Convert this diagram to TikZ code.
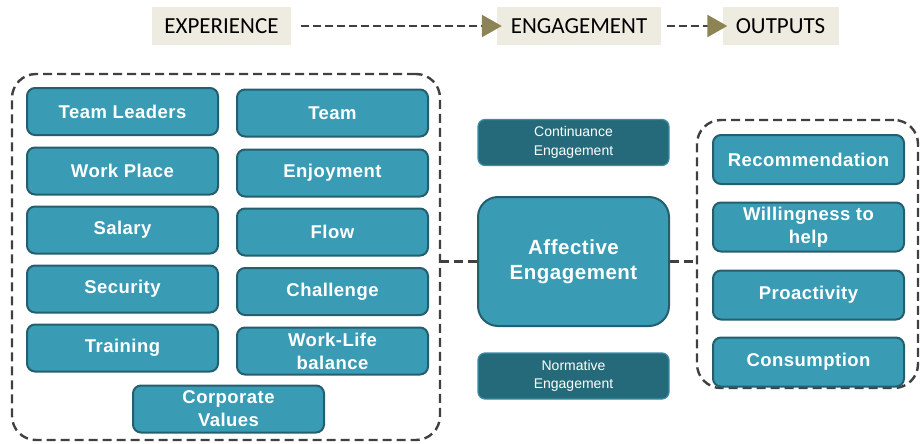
\documentclass[tikz,border=0pt]{standalone}
\usepackage{fontspec}
\setmainfont{Liberation Sans}
\newfontfamily\headfont{Carlito}
\newfontfamily\boxfont[LetterSpace=2.5]{Liberation Sans}
\usetikzlibrary{arrows.meta}

\definecolor{tealfill}{HTML}{3A9BB5}
\definecolor{tealedge}{HTML}{245F6E}
\definecolor{tealdark}{HTML}{256A7A}
\definecolor{tealrim}{HTML}{3C8EA3}
\definecolor{beige}{HTML}{EEECE1}
\definecolor{olive}{HTML}{8C8455}
\definecolor{dashgray}{HTML}{404040}

\tikzset{
  headbox/.style={fill=beige, text=black, font=\headfont\fontsize{23}{24}\selectfont,
    minimum height=38pt, inner sep=0pt},
  item/.style={draw=tealedge, line width=2pt, fill=tealfill, rounded corners=8pt,
    text=white, font=\boxfont\bfseries\fontsize{18.5}{23}\selectfont, align=center,
    minimum width=191pt, minimum height=47pt, inner sep=0pt},
  minor/.style={draw=tealrim, line width=1.2pt, fill=tealdark, rounded corners=7pt,
    text=white, font=\fontsize{14}{18.5}\selectfont, align=center,
    minimum width=191pt, minimum height=46pt, inner sep=0pt},
  core/.style={item, rounded corners=20pt, minimum height=129pt,
    font=\boxfont\bfseries\fontsize{20.5}{25}\selectfont},
  frame/.style={draw=dashgray, line width=2.4pt, dash pattern=on 9pt off 5pt,
    rounded corners=24pt, inner sep=0pt},
  flow/.style={draw=dashgray, line width=2.6pt, dash pattern=on 8pt off 4pt},
  link/.style={draw=dashgray, line width=2.4pt, dash pattern=on 9pt off 5pt},
  olivetip/.style={-{Triangle[length=20pt,width=22pt,fill=olive,color=olive]}}
}

\begin{document}
\begin{tikzpicture}[x=1pt,y=-1pt]
\useasboundingbox (0,0) rectangle (921,444);

% header row
\node[headbox, minimum width=139pt] (exp) at (221.5,26) {EXPERIENCE};
\node[headbox, minimum width=164pt] (eng) at (579,26) {ENGAGEMENT};
\node[headbox, minimum width=116pt] (out) at (780.5,26) {OUTPUTS};
\draw[flow, olivetip, shorten <=10pt, shorten >=-5pt] (exp.east) -- (eng.west);
\draw[flow, olivetip, shorten <=6pt, shorten >=-5pt] (eng.east) -- (out.west);

% experience group
\node[frame, minimum width=428pt, minimum height=366pt] (expframe) at (226,257) {};
\node[item] (leaders)   at (122.5,111.5) {Team Leaders};
\node[item] (team)      at (332.5,113)   {Team};
\node[item] (place)     at (122.5,171)   {Work Place};
\node[item] (enjoy)     at (332.5,173)   {Enjoyment};
\node[item] (salary)    at (122.5,230)   {Salary};
\node[item] (flowbox)   at (332.5,232)   {Flow};
\node[item] (security)  at (122.5,289)   {Security};
\node[item] (challenge) at (332.5,291.5) {Challenge};
\node[item] (training)  at (122.5,348)   {Training};
\node[item] (balance)   at (332.5,351)   {Work-Life\\balance};
\node[item] (values)    at (228.5,409)   {Corporate\\Values};

% engagement column
\node[minor] (cont) at (573.5,142.5) {Continuance\\Engagement};
\node[core]  (aff)  at (573.5,261.5) {Affective\\Engagement};
\node[minor] (norm) at (573.5,376)   {Normative\\Engagement};

% outputs group
\node[frame, minimum width=221pt, minimum height=268pt] (outframe) at (807.5,254) {};
\node[item, minimum height=49pt] (recommend) at (808.5,159.5) {Recommendation};
\node[item, minimum height=49pt] (willing)   at (808.5,227)   {Willingness to\\help};
\node[item, minimum height=49pt] (proact)    at (808.5,295)   {Proactivity};
\node[item, minimum height=49pt] (consume)   at (808.5,362)   {Consumption};

% links between the groups
\draw[link] (aff.west) -- (aff.west -| expframe.east);
\draw[link] (aff.east) -- (aff.east -| outframe.west);
\end{tikzpicture}
\end{document}
